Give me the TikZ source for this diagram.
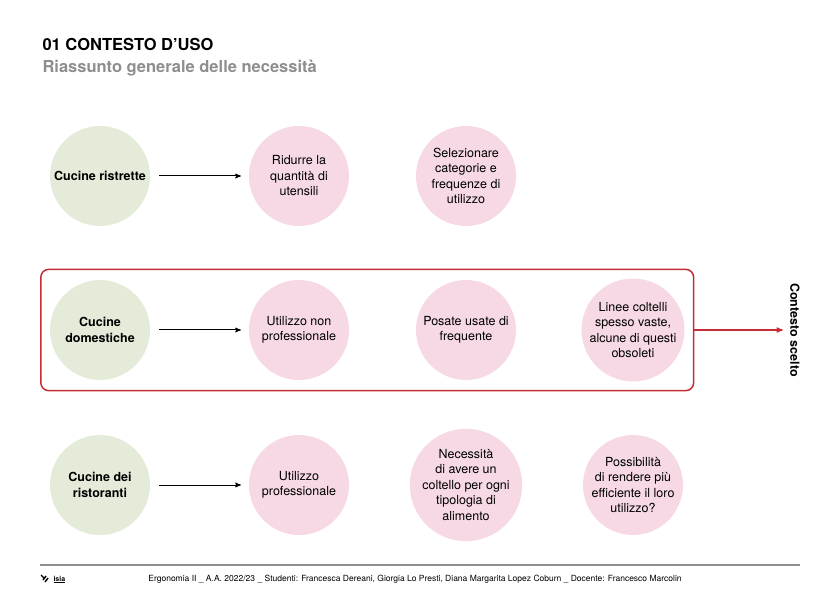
\documentclass[tikz,border=0pt]{standalone}
\usepackage{fontspec}
\setmainfont{TeX Gyre Heros}
\usepackage{tikz}
\usetikzlibrary{arrows,fit}

\definecolor{verdechiaro}{HTML}{E4EBD9}
\definecolor{rosachiaro}{HTML}{F6D9E5}
\definecolor{rosso}{HTML}{C62D33}
\definecolor{grigio}{HTML}{8E8E8E}

\tikzset{
	contesto/.style={circle, fill=verdechiaro, minimum size=100pt, inner sep=0pt, align=center, font=\fontsize{12.5}{15.5}\selectfont\bfseries},
	bisogno/.style={circle, fill=rosachiaro, minimum size=100pt, inner sep=0pt, align=center, font=\fontsize{12.5}{15.5}\selectfont},
	freccia/.style={arrows=-stealth', line width=1pt, shorten <=9pt, shorten >=8pt}
}

\begin{document}
\begin{tikzpicture}[x=1pt, y=-1pt, node distance=167pt]
	\useasboundingbox (0,0) rectangle (840,593);

	\node[anchor=base west, font=\fontsize{16.5}{18}\selectfont\bfseries] (titolo) at (39,51) {01 CONTESTO D’USO};
	\node[anchor=base west, text=grigio, font=\fontsize{16.5}{18}\selectfont\bfseries] (sottotitolo) at (39,73) {Riassunto generale delle necessità};

	\node[contesto] (c1) at (100,176) {Cucine ristrette};
	\node[bisogno] (n11) [right of=c1, node distance=199pt] {Ridurre la\\quantità di\\utensili};
	\node[bisogno] (n12) [right of=n11] {Selezionare\\categorie e\\frequenze di\\utilizzo};

	\node[contesto] (c2) at (100,330) {Cucine\\domestiche};
	\node[bisogno] (n21) [right of=c2, node distance=199pt] {Utilizzo non\\professionale};
	\node[bisogno] (n22) [right of=n21] {Posate usate di\\frequente};
	\node[bisogno] (n23) [right of=n22] {Linee coltelli\\spesso vaste,\\alcune di questi\\obsoleti};

	\node[contesto] (c3) at (100,485) {Cucine dei\\ristoranti};
	\node[bisogno] (n31) [right of=c3, node distance=199pt] {Utilizzo\\professionale};
	\node[bisogno] (n32) [right of=n31] {Necessità\\di avere un\\coltello per ogni\\tipologia di\\alimento};
	\node[bisogno] (n33) [right of=n32] {Possibilità\\di rendere più\\efficiente il loro\\utilizzo?};

	\draw [freccia] (c1) -- (n11);
	\draw [freccia] (c2) -- (n21);
	\draw [freccia] (c3) -- (n31);

	\node[draw=rosso, line width=1.5pt, rounded corners=8pt, inner sep=9pt, fit=(c2)(n23)] (scelta) {};
	\node[rotate=-90, font=\fontsize{12.5}{15}\selectfont\bfseries] (etichetta) at (795,330) {Contesto scelto};
	\draw [arrows=-stealth', line width=1.2pt, rosso, shorten >=4pt] (scelta.east) -- (etichetta.south);

	\draw [grigio, line width=1.5pt] (40,565) -- (800,565);
	\node[anchor=base, font=\fontsize{8.5}{9}\selectfont] (piede) at (415,581) {Ergonomia II \_ A.A. 2022/23 \_ Studenti: Francesca Dereani, Giorgia Lo Presti, Diana Margarita Lopez Coburn \_ Docente: Francesco Marcolin};
	\node[anchor=base west, font=\fontsize{7}{8}\selectfont\bfseries] (logo) at (50,581) {\underline{isia}};
	\draw [line width=1.4pt] (41,575) -- (44,578) (43,580) -- (46,576) (45,582) -- (48,578);
\end{tikzpicture}
\end{document}
